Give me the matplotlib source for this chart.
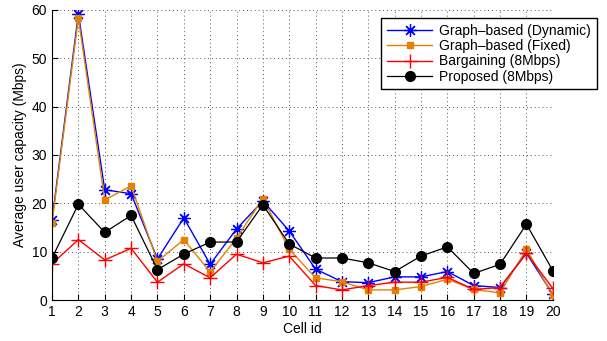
import matplotlib
matplotlib.use('Agg')
import matplotlib.pyplot as plt
import numpy as np

plt.rcParams['font.family'] = ['Liberation Sans', 'DejaVu Sans']

cells = np.arange(1, 21)
dynamic = [16.5, 59.2, 22.8, 22.0, 8.5, 17.0, 7.4, 14.7, 20.5, 14.3,
           6.4, 3.8, 3.6, 4.8, 4.8, 5.9, 3.0, 2.6, 9.7, 1.2]
fixed = [16.0, 58.3, 20.7, 23.6, 8.0, 12.5, 5.8, 12.8, 21.0, 10.5,
         4.6, 3.8, 2.1, 2.1, 2.8, 4.3, 2.2, 1.5, 10.5, 1.0]
bargaining = [7.5, 12.5, 8.3, 10.7, 3.7, 7.5, 4.6, 9.5, 7.7, 9.1,
              3.0, 2.1, 3.0, 3.7, 3.7, 4.7, 2.2, 2.6, 9.7, 2.4]
proposed = [8.7, 19.8, 14.0, 17.5, 6.3, 9.5, 12.0, 12.0, 19.7, 11.6,
            8.7, 8.7, 7.7, 5.9, 9.1, 11.0, 5.5, 7.4, 15.7, 6.1]

fig = plt.figure(figsize=(6.07, 3.41), dpi=100)
ax = fig.add_axes([0.0857, 0.120, 0.825, 0.851])

# asterisk marker like matlab '*'
ax.plot(cells, dynamic, '-', color='#0000ff', marker=(8, 2, 0), markersize=9,
        markeredgewidth=0.9, linewidth=1, label='Graph\u2013based (Dynamic)')
ax.plot(cells, fixed, '-', color='#e38200', marker='s', markersize=5,
        linewidth=1, label='Graph\u2013based (Fixed)')
ax.plot(cells, bargaining, '-', color='#ff0000', marker='+', markersize=10,
        markeredgewidth=1, linewidth=1, label='Bargaining (8Mbps)')
ax.plot(cells, proposed, '-', color='black', marker='o', markersize=7,
        linewidth=0.9, label='Proposed (8Mbps)')

ax.set_xlim(1, 20)
ax.set_ylim(0, 60)
ax.set_xticks(cells)
ax.set_yticks(range(0, 61, 10))
ax.grid(True, linestyle=(0, (1, 3)), color='#555555', linewidth=0.7)
ax.spines['top'].set_visible(False)
ax.spines['right'].set_visible(False)
ax.tick_params(direction='in', labelsize=10, length=4)
ax.set_xlabel('Cell id', fontsize=10, labelpad=2)
ax.set_ylabel('Average user capacity (Mbps)', fontsize=10, labelpad=3)

leg = ax.legend(loc='upper right', bbox_to_anchor=(0.983, 0.947),
                bbox_transform=fig.transFigure, fontsize=10, fancybox=False,
                framealpha=1, edgecolor='black', borderpad=0.4,
                borderaxespad=0, labelspacing=0.1, handlelength=3.3,
                handletextpad=0.5)
leg.get_frame().set_linewidth(1)

fig.savefig('out.png', dpi=100)
